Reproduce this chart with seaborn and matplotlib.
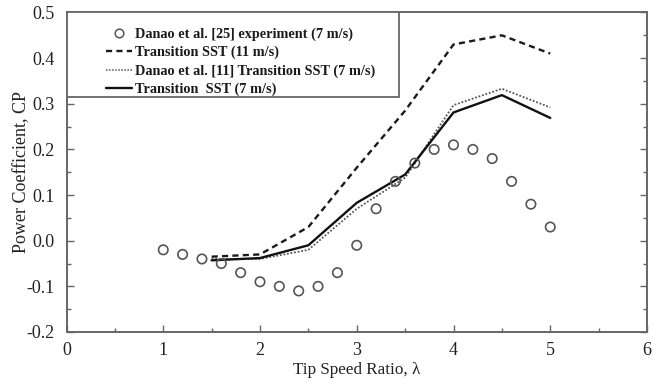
import numpy as np
import pandas as pd
import matplotlib
matplotlib.use("Agg")
import matplotlib.pyplot as plt
from matplotlib.ticker import MultipleLocator, FormatStrFormatter
from matplotlib.lines import Line2D
from matplotlib.patches import Rectangle
import seaborn as sns

# Experimental power coefficient (7 m/s)
tsr_exp = [1.0, 1.2, 1.4, 1.6, 1.8, 2.0, 2.2, 2.4, 2.6, 2.8, 3.0,
           3.2, 3.4, 3.6, 3.8, 4.0, 4.2, 4.4, 4.6, 4.8, 5.0]
cp_exp = [-0.02, -0.03, -0.04, -0.05, -0.07, -0.09, -0.10, -0.11, -0.10, -0.07, -0.01,
          0.07, 0.13, 0.17, 0.20, 0.21, 0.20, 0.18, 0.13, 0.08, 0.03]

# CFD results
tsr_sim = [1.5, 2.0, 2.5, 3.0, 3.5, 4.0, 4.5, 5.0]
cp_sst_11 = [-0.035, -0.03, 0.03, 0.16, 0.285, 0.43, 0.45, 0.41]
cp_danao_sst_7 = [-0.04, -0.04, -0.02, 0.07, 0.138, 0.297, 0.333, 0.292]
cp_sst_7 = [-0.043, -0.038, -0.01, 0.083, 0.145, 0.281, 0.319, 0.269]

labels = ["Danao et al. [25] experiment (7 m/s)",
          "Transition SST (11 m/s)",
          "Danao et al. [11] Transition SST (7 m/s)",
          "Transition  SST (7 m/s)"]

sns.set_style("ticks")
plt.rcParams["font.family"] = ["Liberation Serif", "DejaVu Serif"]
plt.rcParams["axes.unicode_minus"] = False

W, H = 653, 386
L, R, T, B = 66.5, 647, 12.5, 332
fig = plt.figure(figsize=(W / 100, H / 100), dpi=100)
ax = fig.add_axes([L / W, 1 - B / H, (R - L) / W, (B - T) / H])

df_exp = pd.DataFrame({"tsr": tsr_exp, "cp": cp_exp})
df_sim = pd.DataFrame({"tsr": tsr_sim, "sst11": cp_sst_11,
                       "danao": cp_danao_sst_7, "sst7": cp_sst_7})

sns.scatterplot(data=df_exp, x="tsr", y="cp", ax=ax, marker="o", s=46,
                facecolor="none", edgecolor="#555555", linewidth=1.2, zorder=3)
sns.lineplot(data=df_sim, x="tsr", y="sst11", ax=ax, color="#1a1a1a",
             linewidth=1.7, linestyle=(0, (2.6, 1.8)))
sns.lineplot(data=df_sim, x="tsr", y="danao", ax=ax, color="#555555",
             linewidth=1.3, linestyle=(0, (1, 1)))
sns.lineplot(data=df_sim, x="tsr", y="sst7", ax=ax, color="#111111",
             linewidth=1.7)

ax.set_xlim(0, 6)
ax.set_ylim(-0.2, 0.5)
ax.xaxis.set_major_locator(MultipleLocator(1))
ax.xaxis.set_minor_locator(MultipleLocator(0.5))
ax.yaxis.set_major_locator(MultipleLocator(0.1))
ax.yaxis.set_minor_locator(MultipleLocator(0.05))
ax.yaxis.set_major_formatter(FormatStrFormatter("%.1f"))
ax.xaxis.set_major_formatter(FormatStrFormatter("%d"))

for sp in ax.spines.values():
    sp.set_visible(True)
    sp.set_color("#666666")
    sp.set_linewidth(1.4)

ax.tick_params(axis="both", which="both", direction="in", color="#666666",
               labelsize=13, labelcolor="#222222")
ax.tick_params(axis="y", which="both", left=True, right=True, pad=8.5)
ax.tick_params(axis="x", which="both", bottom=True, top=False, pad=7)
ax.tick_params(which="major", length=5, width=1.0)
ax.tick_params(which="minor", length=3, width=1.0)

ax.set_xlabel("Tip Speed Ratio, λ", fontsize=12.3, color="#222222")
ax.set_ylabel("Power Coefficient, CP", fontsize=13, color="#222222")
ax.xaxis.set_label_coords(0.5, -(362 - B) / (B - T))
ax.yaxis.set_label_coords(-(L - 30) / (R - L), 0.5)

# legend with its own frame
ax.add_patch(Rectangle((0, 1 - (97 - T) / (B - T)), (399 - L) / (R - L),
                       (97 - T) / (B - T), transform=ax.transAxes,
                       facecolor="white", edgecolor="#666666", linewidth=1.3, zorder=4))
handles = [
    Line2D([], [], marker="o", linestyle="none", markersize=6.2, markerfacecolor="none",
           markeredgecolor="#555555", markeredgewidth=1.1),
    Line2D([], [], color="#1a1a1a", linewidth=1.7, linestyle=(0, (2.6, 1.8))),
    Line2D([], [], color="#555555", linewidth=1.1, linestyle=(0, (1, 1))),
    Line2D([], [], color="#111111", linewidth=1.7),
]
leg = ax.legend(handles, labels, loc="upper left",
                bbox_to_anchor=(106 / W, 1 - 27.5 / H), bbox_transform=fig.transFigure,
                frameon=False, prop={"weight": "bold", "size": 10.3},
                handlelength=1.85, handletextpad=0.2, labelspacing=0.34, borderpad=0,
                borderaxespad=0)
leg.set_zorder(5)
for t in leg.get_texts():
    t.set_color("#1a1a1a")

fig.savefig("out.png", dpi=100)
